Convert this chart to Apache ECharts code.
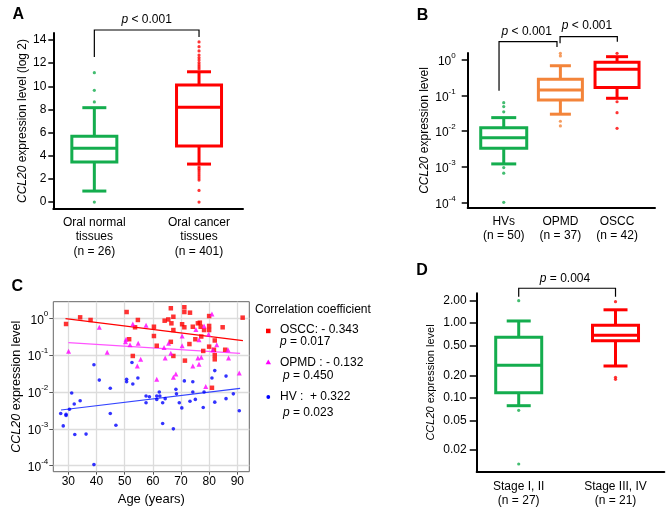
<!DOCTYPE html>
<html><head><meta charset="utf-8">
<script src="https://cdn.jsdelivr.net/npm/echarts@6/dist/echarts.min.js"></script>
<style>html,body{margin:0;padding:0;background:#fff}#c{width:669px;height:527px}</style>
</head><body><div id="c"></div>
<script>
// ---------- Panel A ----------
const aCategories = ['Oral normal\ntissues\n(n = 26)', 'Oral cancer\ntissues\n(n = 401)'];
const aNormalBox = [0.95, 3.45, 4.65, 5.68, 8.15];   // min, Q1, median, Q3, max
const aCancerBox = [3.28, 4.84, 8.18, 10.11, 11.25];
const aNormalOutliers = [11.17, 9.65, 8.65, 0];
const aCancerOutliers = [13.83, 13.42, 13.05, 12.7, 12.47, 12.27, 12.04, 11.84, 11.67, 11.5,
  3.05, 2.9, 2.77, 2.6, 2.42, 2.25, 2.07, 1.9, 1.0, 0];
const aYTicks = [0, 2, 4, 6, 8, 10, 12, 14];
const aPText = 'p < 0.001';

// ---------- Panel B ----------
const bCategories = ['HVs\n(n = 50)', 'OPMD\n(n = 37)', 'OSCC\n(n = 42)'];
const bHvBox = [0.0012, 0.0033, 0.0065, 0.0125, 0.024];
const bOpmdBox = [0.030, 0.075, 0.144, 0.29, 0.69];
const bOsccBox = [0.084, 0.17, 0.55, 0.86, 1.24];
const bHvOutliers = [0.063, 0.049, 0.035, 0.00095, 0.00066, 0.0001];
const bOpmdOutliers = [1.54, 1.3, 0.019, 0.014];
const bOsccOutliers = [1.9, 1.54, 0.067, 0.033, 0.012];
const bYTicks = [1e-4, 1e-3, 1e-2, 1e-1, 1];
const bPTexts = ['p < 0.001', 'p < 0.001'];

// ---------- Panel C ----------
const cOsccAge = [29.2,34.2,37.9,50.7,51.6,52.9,53.7,54.7,60.4,60.4,61.4,64.2,65.5,66.4,66.6,66.4,67.3,67.3,67.3,71.2,71.2,70.4,71.2,71.4,73.2,73,74.2,75.1,76,76.7,77,77.2,78.2,77.9,80,80,80,80,81.7,82,82,82,81,84.8,85.7,91.9];
const cOsccVal = [0.70,1.06,0.90,1.48,0.27,0.095,0.57,0.90,0.59,0.33,0.18,0.86,0.93,1.87,0.73,0.23,1.10,0.48,0.095,1.99,1.48,0.69,0.57,0.071,1.42,0.20,0.59,0.27,0.73,0.76,0.59,0.32,0.48,0.13,1.15,0.62,0.48,0.17,0.14,0.25,0.10,0.077,0.013,0.57,0.14,1.04];
const cOpmdAge = [30.1,41,43.8,50.3,50.5,51.9,52.9,54.5,54.8,55.7,57.6,61.4,64,64.4,65.6,66.4,67.3,68.2,70.4,70.4,74.2,75.3,76,76.4,76.4,77.2,78.2,78.8,79.8,81,81.3,82.7,86.7,86.9,90.7];
const cOpmdVal = [0.127,0.57,0.12,0.23,0.27,0.19,0.70,0.051,0.21,0.077,0.65,0.022,0.16,0.084,0.21,0.112,0.025,0.031,0.33,0.18,0.051,0.50,0.084,0.057,0.26,0.087,0.62,0.014,0.37,1.31,0.138,0.19,0.14,0.084,0.033];
const cHvAge = [27.3,28.2,29.2,29.2,30.4,31.2,32.1,32.3,34.2,36.3,39.1,39.1,41,44.9,44.9,46.9,50.7,50.7,52.6,52.9,54.7,57.6,57.6,58.8,61.4,61.4,62.3,62.5,63.5,63.5,64.4,67.3,68.2,68.4,69.4,70.3,71.2,73.2,74.2,74.2,75.1,78.2,77.9,81,82,82,86,86,88.6,90.7];
const cHvVal = [0.0026,0.0012,0.0025,0.0023,0.0034,0.0094,0.0047,0.0007,0.0058,0.00072,0.055,0.000107,0.021,0.0126,0.0026,0.00125,0.022,0.019,0.063,0.0165,0.024,0.0078,0.0051,0.0074,0.0078,0.0063,0.010,0.0078,0.0051,0.0014,0.0066,0.0010,0.0118,0.0089,0.0051,0.0037,0.020,0.0056,0.019,0.010,0.0063,0.010,0.0038,0.024,0.038,0.0053,0.027,0.0066,0.0089,0.0031];
const cOsccFit = [[29, 0.98], [92, 0.247]];
const cOpmdFit = [[30, 0.218], [91, 0.112]];
const cHvFit = [[27.4, 0.00325], [91, 0.0126]];
const cXTicks = [30, 40, 50, 60, 70, 80, 90];
const cYTicks = [1e-4, 1e-3, 1e-2, 1e-1, 1];
const cLegendTitle = 'Correlation coefficient';
const cLegendLabels = ['OSCC: - 0.343', 'OPMD : - 0.132', 'HV :  + 0.322'];
const cLegendP = ['p = 0.017', 'p = 0.450', 'p = 0.023'];

// ---------- Panel D ----------
const dCategories = ['Stage I, II\n(n = 27)', 'Stage III, IV\n(n = 21)'];
const dEarlyBox = [0.0785, 0.117, 0.273, 0.65, 1.07];
const dLateBox = [0.267, 0.58, 0.69, 0.935, 1.51];
const dEarlyOutliers = [2.0, 0.068, 0.013];
const dLateOutliers = [1.94, 0.188, 0.177];
const dYTicks = [0.02, 0.05, 0.10, 0.20, 0.50, 1.00, 2.00];
const dPText = 'p = 0.004';

// ---------- styling ----------
const FONT = '"Liberation Sans", Arial, Helvetica, sans-serif';
const GREEN = '#14ad4e', RED = '#ff0000', ORANGE = '#f3843a', MAGENTA = '#ff00ff', BLUE = '#0000ff';
const L = Math.log10;

function boxRenderer(color, boxW, capW) {
  return function (params, api) {
    const x = api.value(0);
    const p = [1, 2, 3, 4, 5].map(i => api.coord([x, api.value(i)]));
    const cx = p[0][0];
    const st = { stroke: color, lineWidth: 3, fill: 'none' };
    const ln = (x1, y1, x2, y2) => ({ type: 'line', shape: { x1, y1, x2, y2 }, style: st });
    return { type: 'group', children: [
      ln(cx, p[0][1], cx, p[1][1]),
      ln(cx, p[3][1], cx, p[4][1]),
      ln(cx - capW / 2, p[0][1], cx + capW / 2, p[0][1]),
      ln(cx - capW / 2, p[4][1], cx + capW / 2, p[4][1]),
      { type: 'rect', shape: { x: cx - boxW / 2, y: p[3][1], width: boxW, height: p[1][1] - p[3][1] }, style: st },
      ln(cx - boxW / 2, p[2][1], cx + boxW / 2, p[2][1])
    ] };
  };
}
function pRich(t) { return t.replace(/^(\s*)p/, '$1{i|p}'); }
function bracketRenderer(items) {
  return function (params, api) {
    const b = items[params.dataIndex];
    const pts = [api.coord([b.x1, b.yl]), api.coord([b.x1, b.top]), api.coord([b.x2, b.top]), api.coord([b.x2, b.yr])];
    const tp = api.coord([b.tx, b.ty]);
    return { type: 'group', children: [
      { type: 'polyline', shape: { points: pts }, style: { stroke: '#000', lineWidth: 1.2, fill: 'none' } },
      { type: 'text', x: tp[0], y: tp[1], style: { text: pRich(b.text), align: 'center', verticalAlign: 'middle',
        fontSize: 12, fontFamily: FONT, fill: '#000', rich: { i: { fontStyle: 'italic', fontSize: 12, fontFamily: FONT, fill: '#000' } } } }
    ] };
  };
}
function boxSeries(axis, x, box, color, boxW, capW) {
  return { type: 'custom', xAxisIndex: axis, yAxisIndex: axis, renderItem: boxRenderer(color, boxW, capW),
    data: [[x].concat(box)], encode: { x: 0, y: [1, 2, 3, 4, 5] }, silent: true, z: 3 };
}
function outlierSeries(axis, x, vals, color) {
  return { type: 'scatter', xAxisIndex: axis, yAxisIndex: axis, symbol: 'circle', symbolSize: 3.2,
    itemStyle: { color }, data: vals.map(v => [x, v]), silent: true, z: 4 };
}
function bracketSeries(axis, items) {
  return { type: 'custom', xAxisIndex: axis, yAxisIndex: axis, renderItem: bracketRenderer(items),
    data: items.map((b, i) => [i]), encode: { x: 0 }, silent: true, clip: false, z: 5 };
}
const supRich = {
  b: { fontSize: 12, fontFamily: FONT, color: '#000', lineHeight: 16, verticalAlign: 'bottom' },
  s: { fontSize: 8, fontFamily: FONT, color: '#000', lineHeight: 9, verticalAlign: 'top' }
};
const supFmt = v => '{b|10}{s|' + Math.round(v) + '}';
const nameStyle = (fs) => ({ fontSize: fs, fontFamily: FONT, color: '#000', rich: { i: { fontStyle: 'italic', fontSize: fs, fontFamily: FONT, color: '#000' } } });
const blackLine = { show: true, onZero: false, lineStyle: { color: '#000', width: 2 } };

const option = {
  animation: false,
  textStyle: { fontFamily: FONT },
  grid: [
    { left: 53.3, top: 33, width: 189.7, height: 176, outerBoundsMode: 'none', containLabel: false },
    { left: 467.7, top: 53, width: 187.3, height: 155, outerBoundsMode: 'none', containLabel: false },
    { left: 53.3, top: 301.7, width: 196, height: 170, outerBoundsMode: 'none', containLabel: false, show: true, borderColor: '#666', borderWidth: 1 },
    { left: 476.7, top: 293.3, width: 187.6, height: 178.4, outerBoundsMode: 'none', containLabel: false }
  ],
  xAxis: [
    { gridIndex: 0, type: 'value', min: -0.392, max: 1.42, axisLine: blackLine, axisTick: { show: false }, splitLine: { show: false },
      axisLabel: { customValues: [0, 1], formatter: v => aCategories[Math.round(v)], fontSize: 12, color: '#000', lineHeight: 14.5, margin: 6 } },
    { gridIndex: 1, type: 'value', min: -0.636, max: 2.67, axisLine: blackLine, axisTick: { show: false }, splitLine: { show: false },
      axisLabel: { customValues: [0, 1, 2], formatter: v => bCategories[Math.round(v)], fontSize: 12, color: '#000', lineHeight: 14.5, margin: 6 } },
    { gridIndex: 2, type: 'value', min: 24.67, max: 94.26, axisLine: { show: false, onZero: false },
      axisTick: { show: true, length: 3, customValues: cXTicks, lineStyle: { color: '#555' } },
      splitLine: { show: true, lineStyle: { color: '#dcdcdc', width: 1.3 } },
      axisLabel: { customValues: cXTicks, fontSize: 12, color: '#000', margin: 4 },
      name: 'Age (years)', nameLocation: 'middle', nameGap: 21, nameTextStyle: { fontSize: 13, color: '#000' } },
    { gridIndex: 3, type: 'value', min: -0.434, max: 1.504, axisLine: blackLine, axisTick: { show: false }, splitLine: { show: false },
      axisLabel: { customValues: [0, 1], formatter: v => dCategories[Math.round(v)], fontSize: 12, color: '#000', lineHeight: 14, margin: 8 } }
  ],
  yAxis: [
    { gridIndex: 0, type: 'value', min: -0.6, max: 14.6, axisLine: blackLine,
      axisTick: { show: true, length: 5, customValues: aYTicks, lineStyle: { color: '#000', width: 1.5 } }, splitLine: { show: false },
      axisLabel: { customValues: aYTicks, fontSize: 12, color: '#000', margin: 7 },
      name: '{i|CCL20} expression level (log 2)', nameLocation: 'middle', nameGap: 24, nameTextStyle: nameStyle(12) },
    { gridIndex: 1, type: 'value', min: -4.16, max: 0.197, axisLine: blackLine,
      axisTick: { show: true, length: 6, customValues: bYTicks.map(L), lineStyle: { color: '#000', width: 1.5 } }, splitLine: { show: false },
      axisLabel: { customValues: bYTicks.map(L), formatter: supFmt, rich: supRich, margin: 12 },
      name: '{i|CCL20} expression level', nameLocation: 'middle', nameGap: 37, nameTextStyle: nameStyle(12) },
    { gridIndex: 2, type: 'value', min: -4.163, max: 0.45, axisLine: { show: false, onZero: false },
      axisTick: { show: true, length: 4, customValues: cYTicks.map(L), lineStyle: { color: '#555' } },
      splitLine: { show: true, lineStyle: { color: '#dcdcdc', width: 1.3 } },
      axisLabel: { customValues: cYTicks.map(L), formatter: supFmt, rich: supRich, margin: 5 },
      name: '{i|CCL20} expression level', nameLocation: 'middle', nameGap: 30, nameTextStyle: nameStyle(12.5) },
    { gridIndex: 3, type: 'value', min: -1.989, max: 0.40, axisLine: blackLine,
      axisTick: { show: true, length: 7, customValues: dYTicks.map(L), lineStyle: { color: '#000', width: 1.5 } }, splitLine: { show: false },
      axisLabel: { customValues: dYTicks.map(L), formatter: v => Math.pow(10, v).toFixed(2), fontSize: 12, color: '#000', margin: 10 },
      name: '{i|CCL20} expression level', nameLocation: 'middle', nameGap: 40, nameTextStyle: nameStyle(11) }
  ],
  series: [
    // A
    boxSeries(0, 0, aNormalBox, GREEN, 45, 24),
    boxSeries(0, 1, aCancerBox, RED, 45, 24),
    outlierSeries(0, 0, aNormalOutliers, GREEN),
    outlierSeries(0, 1, aCancerOutliers, RED),
    bracketSeries(0, [{ x1: 0, x2: 1, top: 14.86, yl: 12.53, yr: 14.26, tx: 0.5, ty: 15.72, text: aPText }]),
    // B
    boxSeries(1, 0, bHvBox.map(L), GREEN, 46, 25),
    boxSeries(1, 1, bOpmdBox.map(L), ORANGE, 44, 21),
    boxSeries(1, 2, bOsccBox.map(L), RED, 44, 22),
    outlierSeries(1, 0, bHvOutliers.map(L), GREEN),
    outlierSeries(1, 1, bOpmdOutliers.map(L), ORANGE),
    outlierSeries(1, 2, bOsccOutliers.map(L), RED),
    bracketSeries(1, [
      { x1: -0.083, x2: 0.94, top: 0.514, yl: -0.863, yr: 0.365, tx: 0.406, ty: 0.795, text: bPTexts[0] },
      { x1: 0.994, x2: 2.005, top: 0.655, yl: 0.469, yr: 0.514, tx: 1.47, ty: 0.956, text: bPTexts[1] }
    ]),
    // C
    { type: 'line', xAxisIndex: 2, yAxisIndex: 2, data: cOsccFit.map(d => [d[0], L(d[1])]), symbol: 'none', lineStyle: { color: RED, width: 1.2 }, silent: true, z: 2 },
    { type: 'line', xAxisIndex: 2, yAxisIndex: 2, data: cOpmdFit.map(d => [d[0], L(d[1])]), symbol: 'none', lineStyle: { color: '#ff55ff', width: 1.2 }, silent: true, z: 2 },
    { type: 'line', xAxisIndex: 2, yAxisIndex: 2, data: cHvFit.map(d => [d[0], L(d[1])]), symbol: 'none', lineStyle: { color: '#3344ff', width: 1.2 }, silent: true, z: 2 },
    { type: 'scatter', xAxisIndex: 2, yAxisIndex: 2, symbol: 'rect', symbolSize: 4.5, itemStyle: { color: RED }, data: cOsccAge.map((a, i) => [a, L(cOsccVal[i])]), silent: true, z: 3 },
    { type: 'scatter', xAxisIndex: 2, yAxisIndex: 2, symbol: 'triangle', symbolSize: 5, itemStyle: { color: MAGENTA }, data: cOpmdAge.map((a, i) => [a, L(cOpmdVal[i])]), silent: true, z: 3 },
    { type: 'scatter', xAxisIndex: 2, yAxisIndex: 2, symbol: 'circle', symbolSize: 3.6, itemStyle: { color: BLUE }, data: cHvAge.map((a, i) => [a, L(cHvVal[i])]), silent: true, z: 3 },
    // D
    boxSeries(3, 0, dEarlyBox.map(L), GREEN, 46, 24),
    boxSeries(3, 1, dLateBox.map(L), RED, 46, 24),
    outlierSeries(3, 0, dEarlyOutliers.map(L), GREEN),
    outlierSeries(3, 1, dLateOutliers.map(L), RED),
    bracketSeries(3, [{ x1: 0, x2: 1, top: 0.4675, yl: 0.355, yr: 0.355, tx: 0.478, ty: 0.60, text: dPText }])
  ],
  graphic: [
    ...[['A', 18.3, 15], ['B', 422.5, 15.3], ['C', 17.2, 286.3], ['D', 422, 271]].map(t => ({
      type: 'text', x: t[1], y: t[2], silent: true,
      style: { text: t[0], fontSize: 16, fontWeight: 'bold', fontFamily: FONT, fill: '#000', align: 'center', verticalAlign: 'middle' } })),
    { type: 'text', x: 255, y: 310, silent: true, style: { text: cLegendTitle, fontSize: 12, fontFamily: FONT, fill: '#000', verticalAlign: 'middle' } },
    { type: 'rect', silent: true, shape: { x: 266, y: 328.7, width: 4.5, height: 4.5 }, style: { fill: RED } },
    { type: 'polygon', silent: true, shape: { points: [[268.3, 359.5], [271, 364.3], [265.6, 364.3]] }, style: { fill: MAGENTA } },
    { type: 'circle', silent: true, shape: { cx: 268.3, cy: 397, r: 1.9 }, style: { fill: BLUE } },
    ...[[280, 330, 0], [280, 363, 1], [280, 396.5, 2]].map(t => ({ type: 'text', x: t[0], y: t[1], silent: true,
      style: { text: cLegendLabels[t[2]], fontSize: 12, fontFamily: FONT, fill: '#000', verticalAlign: 'middle' } })),
    ...[[280, 342, 0], [283, 376, 1], [283, 413, 2]].map(t => ({ type: 'text', x: t[0], y: t[1], silent: true,
      style: { text: pRich(cLegendP[t[2]]), fontSize: 12, fontFamily: FONT, fill: '#000', verticalAlign: 'middle',
        rich: { i: { fontStyle: 'italic', fontSize: 12, fontFamily: FONT, fill: '#000' } } } }))
  ]
};
const chart = echarts.init(document.getElementById('c'), null, { renderer: 'canvas' });
chart.setOption(option);
</script></body></html>
